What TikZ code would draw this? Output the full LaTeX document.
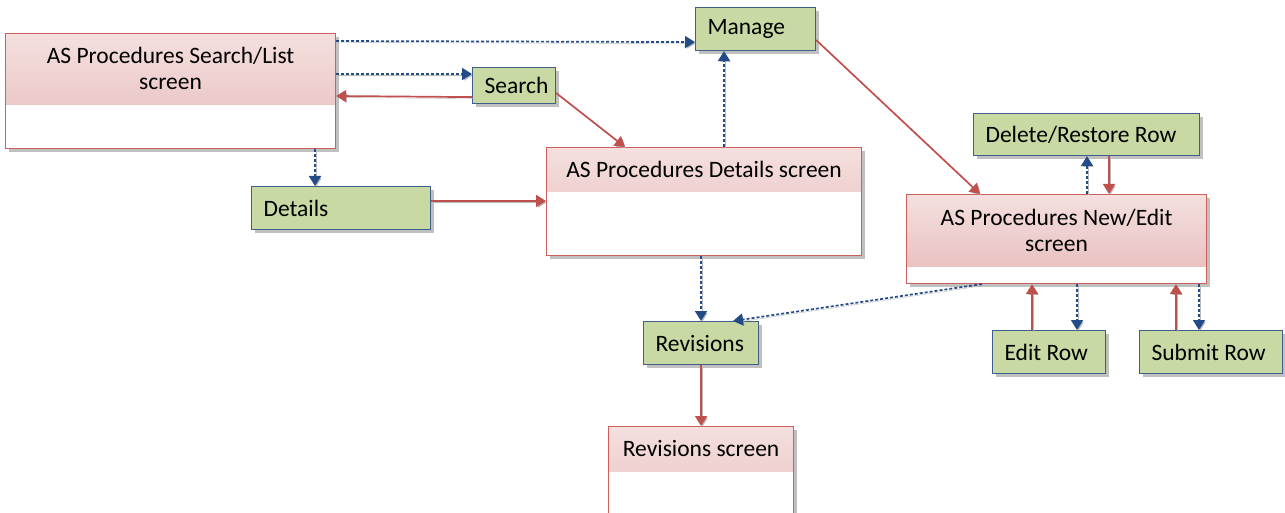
\documentclass[tikz,border=0pt]{standalone}
\usepackage{fontspec}
\setmainfont{Carlito}
\usetikzlibrary{calc,shadows,arrows.meta}
\definecolor{pinkA}{RGB}{244,224,223}
\definecolor{pinkB}{RGB}{230,187,186}
\definecolor{scrborder}{RGB}{205,95,93}
\definecolor{gfill}{RGB}{200,217,163}
\definecolor{gborder}{RGB}{62,95,140}
\definecolor{bluearr}{RGB}{35,75,135}
\definecolor{redarr}{RGB}{192,80,77}
\tikzset{
  screen/.style={draw=scrborder, line width=1.1pt, fill=white, anchor=north west, inner sep=0pt,
    drop shadow={shadow xshift=3pt, shadow yshift=-3pt, opacity=0.45, fill=black!55},
    path picture={\shade[top color=pinkA, bottom color=pinkB]
      (path picture bounding box.north west) rectangle ([yshift=-#1]path picture bounding box.north east);}},
  title/.style={align=center, inner sep=0pt, font=\fontsize{23.5}{26}\selectfont},
  gbox/.style={draw=gborder, line width=1.1pt, fill=gfill, anchor=north west, inner xsep=12pt, inner ysep=0pt,
    align=flush left, font=\fontsize{23.5}{26}\selectfont,
    drop shadow={shadow xshift=3pt, shadow yshift=-3pt, opacity=0.45, fill=black!55}},
  lshadow/.style={preaction={draw=black!28, transform canvas={xshift=1.5pt,yshift=-1.5pt}}},
  bluelink/.style={draw=bluearr, line width=1.7pt, dash pattern=on 3pt off 2pt,
    -{Triangle[length=10pt,width=12pt]}, lshadow},
  redlink/.style={draw=redarr, line width=1.7pt, -{Triangle[length=10pt,width=12pt]}, lshadow},
}
\begin{document}
\begin{tikzpicture}[x=1pt,y=-1pt]
\useasboundingbox (0,0) rectangle (1285,513);
\clip (0,0) rectangle (1285,513);
% screens
\node[screen=71pt, minimum width=330pt, minimum height=115pt] (sl) at (5,33) {};
\node[title] (slT) at ($(sl.north)+(0,35.5)$) {AS Procedures Search/List\\screen};
\node[screen=44pt, minimum width=315pt, minimum height=108pt] (ds) at (546,147) {};
\node[title] (dsT) at ($(ds.north)+(0,22)$) {AS Procedures Details screen};
\node[screen=72pt, minimum width=300pt, minimum height=89pt] (ne) at (906,194) {};
\node[title] (neT) at ($(ne.north)+(0,36)$) {AS Procedures New/Edit\\screen};
\node[screen=45pt, minimum width=185pt, minimum height=110pt] (rs) at (608,426) {};
\node[title] (rsT) at ($(rs.north)+(0,22.5)$) {Revisions screen};
% green boxes
\node[gbox, text width=59pt, minimum height=36pt] (search) at (472,67) {Search};
\node[gbox, text width=96pt, minimum height=43pt] (manage) at (695,7) {Manage};
\node[gbox, text width=155pt, minimum height=43pt] (details) at (251,186) {Details};
\node[gbox, text width=202pt, minimum height=42pt] (delrest) at (973,113) {Delete/Restore Row};
\node[gbox, text width=89pt, minimum height=43pt] (editrow) at (992,330) {Edit Row};
\node[gbox, text width=119pt, minimum height=43pt] (submitrow) at (1139,330) {Submit Row};
\node[gbox, text width=91pt, minimum height=43pt] (revisions) at (643,321) {Revisions};
% connectors
\draw[bluelink] ($(sl.north east)+(0,8)$) -- ($(manage.south west)+(0,-9)$);
\draw[bluelink] ($(sl.north east)+(0,41)$) -- ($(search.north west)+(0,7)$);
\draw[redlink] ($(search.south west)+(0,-7)$) -- ($(sl.north east)+(0,63)$);
\draw[redlink] ($(search.north east)+(0,26)$) -- ($(ds.north west)+(79,0)$);
\draw[bluelink] ($(ds.north west)+(178,0)$) -- ($(manage.south west)+(29,0)$);
\draw[redlink] ($(manage.north east)+(0,33)$) -- ($(ne.north west)+(74,0)$);
\draw[bluelink] ($(sl.south west)+(310,0)$) -- ($(details.north west)+(64,0)$);
\draw[redlink] ($(details.north east)+(0,15)$) -- ($(ds.north west)+(0,54)$);
\draw[bluelink] ($(ds.south west)+(155,0)$) -- ($(revisions.north west)+(58,0)$);
\draw[bluelink] ($(ne.south west)+(76,0)$) -- ($(revisions.north west)+(90,0)$);
\draw[bluelink] ($(ne.north west)+(181,0)$) -- ($(delrest.south west)+(114,0)$);
\draw[redlink] ($(delrest.south west)+(136,0)$) -- ($(ne.north west)+(203,0)$);
\draw[redlink] ($(editrow.north west)+(40,0)$) -- ($(ne.south west)+(126,0)$);
\draw[bluelink] ($(ne.south west)+(171,0)$) -- ($(editrow.north west)+(85,0)$);
\draw[redlink] ($(submitrow.north west)+(37,0)$) -- ($(ne.south west)+(270,0)$);
\draw[bluelink] ($(ne.south west)+(293,0)$) -- ($(submitrow.north west)+(60,0)$);
\draw[redlink] (revisions.south) -- (rs.north);
\end{tikzpicture}
\end{document}
